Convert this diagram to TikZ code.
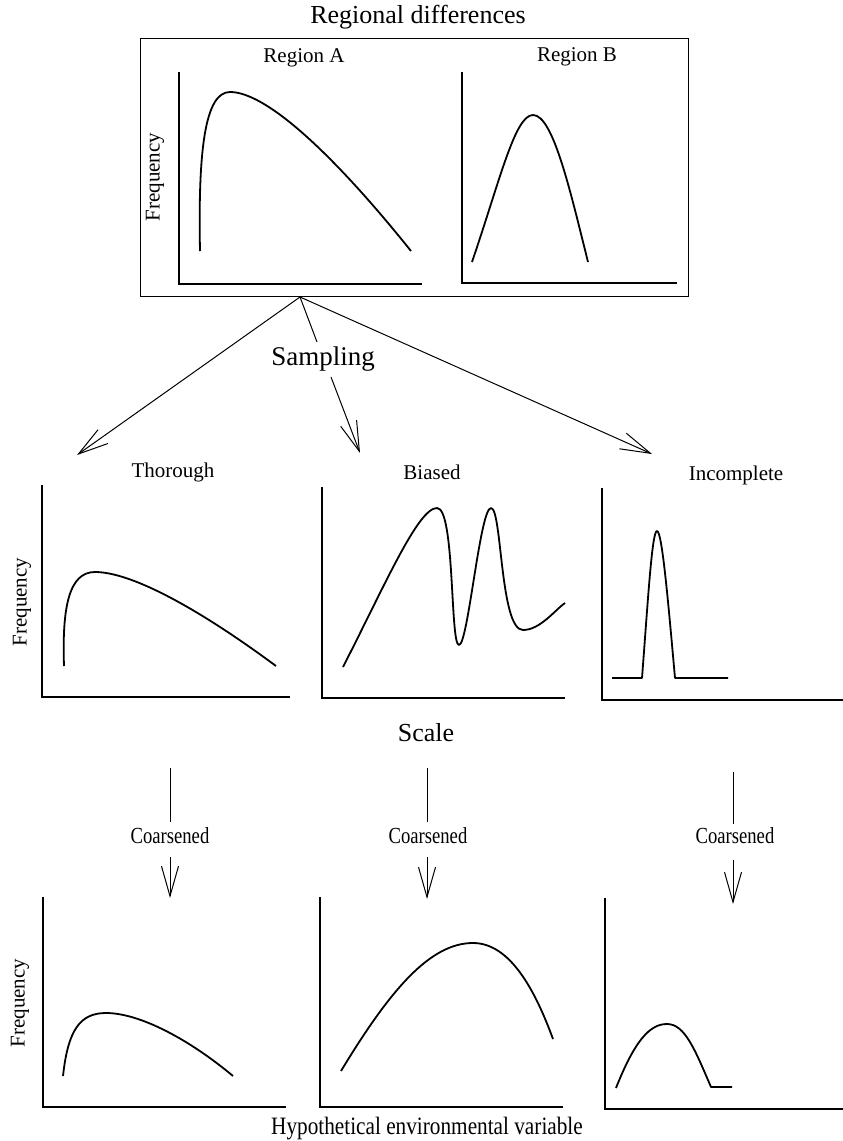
\documentclass[tikz,border=0pt]{standalone}
\usepackage{fontspec}
\setmainfont{Liberation Serif}
\newfontfamily\condfont{Liberation Serif}[FakeStretch=0.81]
\newfontfamily\hypfont{Liberation Serif}[FakeStretch=0.85]
\usetikzlibrary{arrows.meta}
\tikzset{
  axis/.style={line width=2.2pt, line cap=butt},
  curve/.style={line width=1.8pt, line join=round},
  conn/.style={line width=1pt},
  vtip/.style={conn, -{Straight Barb[length=30pt,width=17pt]}},
  big/.style={font=\fontsize{26}{30}\selectfont, inner sep=0pt},
  lab/.style={font=\fontsize{21}{25}\selectfont, inner sep=0pt},
  coarse/.style={font=\condfont\fontsize{23}{27}\selectfont, inner sep=0pt},
  freq/.style={font=\fontsize{21}{25}\selectfont, inner sep=0pt, rotate=90},
}
\begin{document}
\begin{tikzpicture}[x=1pt,y=-1pt]
\useasboundingbox (0,0) rectangle (843,1141);

% ---------- top panel ----------
\node[big] (title) at (418,17) {Regional differences};
\node[draw, line width=1pt, minimum width=548pt, minimum height=258pt, inner sep=0pt] (topbox) at (414,167) {};
\node[lab] (regA) at (304,58) {Region A};
\node[lab] (regB) at (577,57) {Region B};
\node[freq] (frqA) at (155,177) {Frequency};
\draw[axis] (179,72) -- (179,284) -- (422,284);
\draw[axis] (462,72) -- (462,283) -- (677,283);
\draw[curve] (200,251) .. controls (198,150) and (205,92) .. (230,92)
             .. controls (265,92) and (330,150) .. (411,251);
\draw[curve] (472,262) .. controls (500,180) and (515,115) .. (533,115)
             .. controls (553,115) and (570,190) .. (588,262);

% ---------- sampling arrows ----------
\coordinate (apex) at (300,297);
\coordinate (tipT) at (77,455);
\coordinate (tipI) at (652,454);
\coordinate (midA) at (317,342);
\coordinate (midB) at (331,377);
\coordinate (tipB) at (360,453);
\node[big, font=\fontsize{27}{31}\selectfont] (sampling) at (323,359) {Sampling};
\draw[vtip] (apex) -- (tipT);
\draw[vtip] (apex) -- (tipI);
\draw[conn] (apex) -- (midA);
\draw[vtip] (midB) -- (tipB);

% ---------- middle row ----------
\node[lab] (thor) at (173,472) {Thorough};
\node[lab] (bias) at (432,472) {Biased};
\node[lab] (inco) at (736,475) {Incomplete};
\node[freq] (frqM) at (22,602) {Frequency};
\draw[axis] (42,485) -- (42,697) -- (290,697);
\draw[axis] (322,487) -- (322,698) -- (565,698);
\draw[axis] (602,488) -- (602,700) -- (843,700);
\draw[curve] (64,666) .. controls (62,607) and (69,572) .. (95,572)
             .. controls (130,572) and (195,606) .. (276,666);
\draw[curve] (343,667) .. controls (385,585) and (418,508) .. (437,508)
             .. controls (455,508) and (450,645) .. (459,645)
             .. controls (468,645) and (480,508) .. (491,508)
             .. controls (502,508) and (500,630) .. (523,630)
             .. controls (540,630) and (555,610) .. (565,603);
\draw[curve] (612,678) -- (642,678) .. controls (648,600) and (652,531) .. (657,531)
             .. controls (662,531) and (668,600) .. (675,678) -- (728,678);

% ---------- scale arrows ----------
\node[big] (scale) at (426,733) {Scale};
\foreach \n/\x/\a/\b/\c/\d in {L/170/768/822/857/898, M/427/768/822/857/899, R/733/772/824/860/904}{
  \coordinate (\n top) at (\x,\a);
  \coordinate (\n bot) at (\x,\b);
  \coordinate (\n start) at (\x,\c);
  \coordinate (\n tip) at (\x,\d);
  \draw[conn] (\n top) -- (\n bot);
  \draw[vtip] (\n start) -- (\n tip);
}
\node[coarse] (coL) at (170,836) {Coarsened};
\node[coarse] (coM) at (428,836) {Coarsened};
\node[coarse] (coR) at (735,836) {Coarsened};

% ---------- bottom row ----------
\node[freq] (frqB) at (20,1003) {Frequency};
\draw[axis] (43,897) -- (43,1107) -- (286,1107);
\draw[axis] (320,897) -- (320,1107) -- (563,1107);
\draw[axis] (605,898) -- (605,1109) -- (843,1109);
\draw[curve] (63,1076) .. controls (68,1030) and (80,1013) .. (106,1013)
             .. controls (140,1013) and (190,1040) .. (233,1076);
\draw[curve] (341,1071) .. controls (390,990) and (430,943) .. (473,943)
             .. controls (510,943) and (535,990) .. (553,1039);
\draw[curve] (616,1088) .. controls (635,1040) and (650,1024) .. (667,1024)
             .. controls (685,1024) and (695,1050) .. (711,1087) -- (732,1087);
\node[font=\hypfont\fontsize{25}{29}\selectfont, inner sep=0pt] (hyp) at (427,1129) {Hypothetical environmental variable};
\end{tikzpicture}
\end{document}
